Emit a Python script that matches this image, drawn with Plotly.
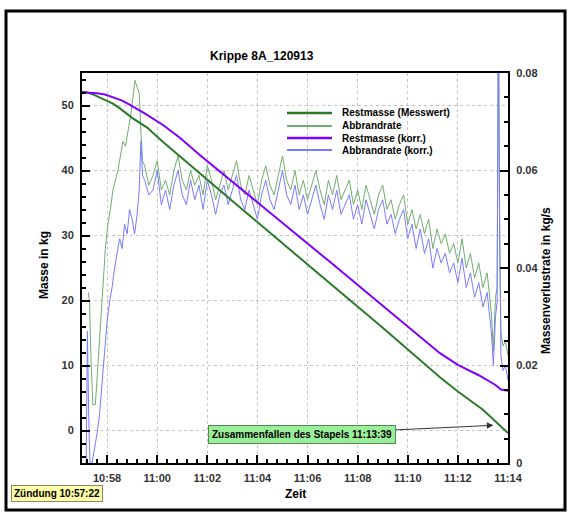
import pandas as pd
import plotly.graph_objects as go

BASE = pd.Timestamp("2012-09-13 10:57:00")

# ---- Restmasse (Messwert) in kg, time in s after 10:57:00
mass_t = [0, 14, 30, 45, 60, 74, 90, 120, 156, 190, 235, 282, 360, 480, 600, 720, 857, 900, 960, 999, 1005, 1020]
mass_mess = [52.1, 52.0, 51.6, 51.1, 50.7, 50.3, 49.6, 48.1, 46.6, 44.6, 42.1, 39.6, 35.3, 28.8, 22.3, 15.8, 8.2, 6.0, 3.2, 0.9, 0.4, -0.4]

# ---- Restmasse (korr.) in kg
korr_t = [0, 20, 36, 55, 74, 95, 115, 150, 194, 235, 282, 360, 480, 600, 720, 857, 900, 950, 990, 999, 1003, 1020]
mass_korr = [52.0, 52.0, 51.9, 51.7, 51.3, 50.8, 50.1, 48.8, 47.0, 45.0, 42.4, 38.3, 32.0, 25.6, 19.2, 11.9, 10.1, 8.5, 7.0, 6.5, 6.3, 6.1]

# ---- Abbrandrate (Messwert) in kg/s
rate_early_t = [15, 18, 22, 26, 32, 38, 44, 50, 56, 62, 68, 74, 80, 86, 92, 98, 104, 110, 116, 122, 127, 132, 137, 141, 145]
rate_early = [0.035, 0.033, 0.020, 0.012, 0.012, 0.020, 0.030, 0.038, 0.044, 0.049, 0.052, 0.056, 0.058, 0.060,
              0.063, 0.066, 0.065, 0.068, 0.071, 0.075, 0.0785, 0.077, 0.076, 0.068, 0.062]
mid_t = list(range(150, 981, 10))
rate_mid = [
    0.061, 0.057, 0.059, 0.062, 0.056, 0.058, 0.055, 0.060, 0.063, 0.058, 0.056, 0.060,
    0.057, 0.059, 0.055, 0.061, 0.058, 0.054, 0.057, 0.060, 0.056, 0.059, 0.062, 0.057,
    0.055, 0.059, 0.056, 0.053, 0.058, 0.061, 0.057, 0.055, 0.059, 0.063, 0.058, 0.056,
    0.060, 0.055, 0.058, 0.054, 0.057, 0.060, 0.056, 0.053, 0.058, 0.055, 0.059, 0.054,
    0.056, 0.058, 0.053, 0.056, 0.052, 0.057, 0.054, 0.051, 0.055, 0.057, 0.052, 0.054,
    0.050, 0.053, 0.055, 0.049, 0.052, 0.048, 0.051, 0.047, 0.050, 0.044, 0.048, 0.045,
    0.047, 0.043, 0.045, 0.041, 0.046, 0.040, 0.043, 0.038, 0.041, 0.036, 0.039, 0.031,
]
end_t = [985, 990, 994, 997, 1000, 1003, 1008, 1014, 1020]
rate_end = [0.023, 0.034, 0.036, 0.090, 0.045, 0.027, 0.024, 0.025, 0.022]

# ---- Abbrandrate (korr.) in kg/s
rk_early_t = [10, 13, 16, 19, 24, 30, 36, 42, 48, 54, 60, 66, 72, 78, 84, 90, 96, 102, 108, 114, 120, 126, 132, 137, 141, 145]
rk_early = [0.000, 0.027, 0.010, 0.000, 0.000, 0.003, 0.006, 0.010, 0.017, 0.024, 0.029, 0.033, 0.036, 0.040,
            0.043, 0.046, 0.044, 0.049, 0.047, 0.052, 0.050, 0.047, 0.051, 0.056, 0.066, 0.059]
rk_mid = [
    0.058, 0.055, 0.056, 0.060, 0.053, 0.056, 0.052, 0.057, 0.060, 0.055, 0.053, 0.058,
    0.054, 0.057, 0.052, 0.058, 0.055, 0.051, 0.055, 0.057, 0.053, 0.056, 0.059, 0.054,
    0.052, 0.056, 0.053, 0.050, 0.055, 0.058, 0.054, 0.052, 0.056, 0.060, 0.055, 0.053,
    0.057, 0.052, 0.055, 0.051, 0.054, 0.057, 0.053, 0.050, 0.055, 0.052, 0.056, 0.051,
    0.053, 0.055, 0.050, 0.053, 0.049, 0.054, 0.051, 0.048, 0.052, 0.054, 0.049, 0.051,
    0.047, 0.050, 0.052, 0.046, 0.049, 0.044, 0.048, 0.043, 0.046, 0.040, 0.044, 0.041,
    0.043, 0.039, 0.041, 0.037, 0.042, 0.036, 0.039, 0.034, 0.037, 0.032, 0.035, 0.027,
]
rk_end = [0.020, 0.030, 0.033, 0.095, 0.050, 0.022, 0.019, 0.020, 0.017]

legend_names = ["Restmasse (Messwert)", "Abbrandrate", "Restmasse (korr.)", "Abbrandrate (korr.)"]
y_ticks_left = [0, 10, 20, 30, 40, 50]
y_ticks_right = [0, 0.02, 0.04, 0.06, 0.08]
y_ticktext_right = ["0", "0.02", "0.04", "0.06", "0.08"]


def tx(secs):
    return [BASE + pd.Timedelta(seconds=s) for s in secs]


C_MESS = "#2a7a2a"
C_RATE = "#6fae6f"
C_KORR = "#8000ff"
C_RK = "#7a7aff"

FONT = "Liberation Sans, Arial, sans-serif"

fig = go.Figure()
fig.add_trace(go.Scatter(x=tx(rate_early_t + mid_t + end_t), y=rate_early + rate_mid + rate_end,
                         mode="lines", line=dict(color=C_RATE, width=1), yaxis="y", name=legend_names[1],
                         showlegend=False))
fig.add_trace(go.Scatter(x=tx(rk_early_t + mid_t + end_t), y=rk_early + rk_mid + rk_end,
                         mode="lines", line=dict(color=C_RK, width=1), yaxis="y", name=legend_names[3],
                         showlegend=False))
fig.add_trace(go.Scatter(x=tx(mass_t), y=mass_mess, mode="lines", line=dict(color=C_MESS, width=2),
                         yaxis="y2", name=legend_names[0], showlegend=False))
fig.add_trace(go.Scatter(x=tx(korr_t), y=mass_korr, mode="lines", line=dict(color=C_KORR, width=2),
                         yaxis="y2", name=legend_names[2], showlegend=False))

L, R, T, B = 82, 508, 73, 463
W_, H_ = R - L, B - T


def px(x):
    return (x - L) / W_


def py(y):
    return (B - y) / H_


tickfont = dict(family=FONT, size=11, color="#333333", weight="bold")
grid = dict(showgrid=True, gridcolor="#c4c4c4", griddash="dot", gridwidth=1)

fig.update_layout(
    width=570, height=516,
    margin=dict(l=L, r=570 - R, t=T, b=516 - B),
    paper_bgcolor="white", plot_bgcolor="white",
    showlegend=False,
    xaxis=dict(type="date", range=[BASE, BASE + pd.Timedelta(seconds=1020)],
               tick0=BASE + pd.Timedelta(seconds=60), dtick=120000, tickformat="%H:%M",
               ticks="inside", ticklen=8, tickwidth=1.5, tickcolor="black",
               minor=dict(ticks="inside", dtick=24000, ticklen=4, tickcolor="black", showgrid=False),
               showline=True, linecolor="black", linewidth=2, mirror=True,
               tickfont=tickfont, ticklabelstandoff=4, **grid),
    yaxis=dict(range=[0, 0.08], side="right", tickvals=y_ticks_right, ticktext=y_ticktext_right,
               ticks="inside", ticklen=8, tickwidth=1.5, tickcolor="black",
               minor=dict(ticks="inside", dtick=0.005, ticklen=4, tickcolor="black", showgrid=False),
               showline=True, linecolor="black", linewidth=2, showgrid=False, zeroline=False,
               tickfont=tickfont, ticklabelstandoff=4),
    yaxis2=dict(range=[-5, 55], side="left", overlaying="y", tickvals=y_ticks_left,
                ticks="inside", ticklen=8, tickwidth=1.5, tickcolor="black",
                minor=dict(ticks="inside", dtick=2, ticklen=4, tickcolor="black", showgrid=False),
                showline=True, linecolor="black", linewidth=2, zeroline=False,
                tickfont=tickfont, ticklabelstandoff=4, **grid),
)

shapes = [dict(type="rect", xref="paper", yref="paper", x0=px(6), x1=px(565), y0=py(510), y1=py(11),
               line=dict(color="black", width=3), fillcolor="rgba(0,0,0,0)")]
annotations = []

# manual legend
leg_colors = [C_MESS, C_RATE, C_KORR, C_RK]
leg_widths = [2.5, 2, 2.5, 2]
leg_y = [113, 126, 138, 150]
for name, c, w, yy in zip(legend_names, leg_colors, leg_widths, leg_y):
    shapes.append(dict(type="line", xref="paper", yref="paper", x0=px(287), x1=px(332), y0=py(yy), y1=py(yy),
                       line=dict(color=c, width=w)))
    annotations.append(dict(xref="paper", yref="paper", x=px(340), y=py(yy), xanchor="left", yanchor="middle",
                            text=name, showarrow=False, font=dict(family=FONT, size=10, color="black", weight="bold")))

bold12 = dict(family=FONT, size=12, color="black", weight="bold")
annotations += [
    dict(xref="paper", yref="paper", x=px(262), y=py(56), text="Krippe 8A_120913", showarrow=False,
         xanchor="center", yanchor="middle", font=bold12),
    dict(xref="paper", yref="paper", x=px(44), y=py(265), text="Masse in kg", showarrow=False, textangle=-90,
         xanchor="center", yanchor="middle", font=bold12),
    dict(xref="paper", yref="paper", x=px(546), y=py(281), text="Massenverlustrate in kg/s", showarrow=False,
         textangle=-90, xanchor="center", yanchor="middle", font=bold12),
    dict(xref="paper", yref="paper", x=px(295), y=py(494), text="Zeit", showarrow=False,
         xanchor="center", yanchor="middle", font=bold12),
    dict(xref="paper", yref="paper", x=px(57), y=py(493), text="Zündung 10:57:22", showarrow=False,
         xanchor="center", yanchor="middle", bgcolor="#ffffa8", bordercolor="#888866", borderwidth=1, borderpad=2,
         font=dict(family=FONT, size=10, color="black", weight="bold")),
    dict(xref="x", yref="y2", x=BASE + pd.Timedelta(seconds=985), y=0.8, ax=-191, ay=9,
         text="Zusammenfallen des Stapels 11:13:39", showarrow=True, arrowhead=2, arrowsize=1.3, arrowwidth=1,
         arrowcolor="#333333", bgcolor="#99ee99", bordercolor="#558855", borderwidth=1, borderpad=3,
         font=dict(family=FONT, size=10, color="black", weight="bold")),
]
fig.update_layout(shapes=shapes, annotations=annotations)

fig.write_html("out.html")
